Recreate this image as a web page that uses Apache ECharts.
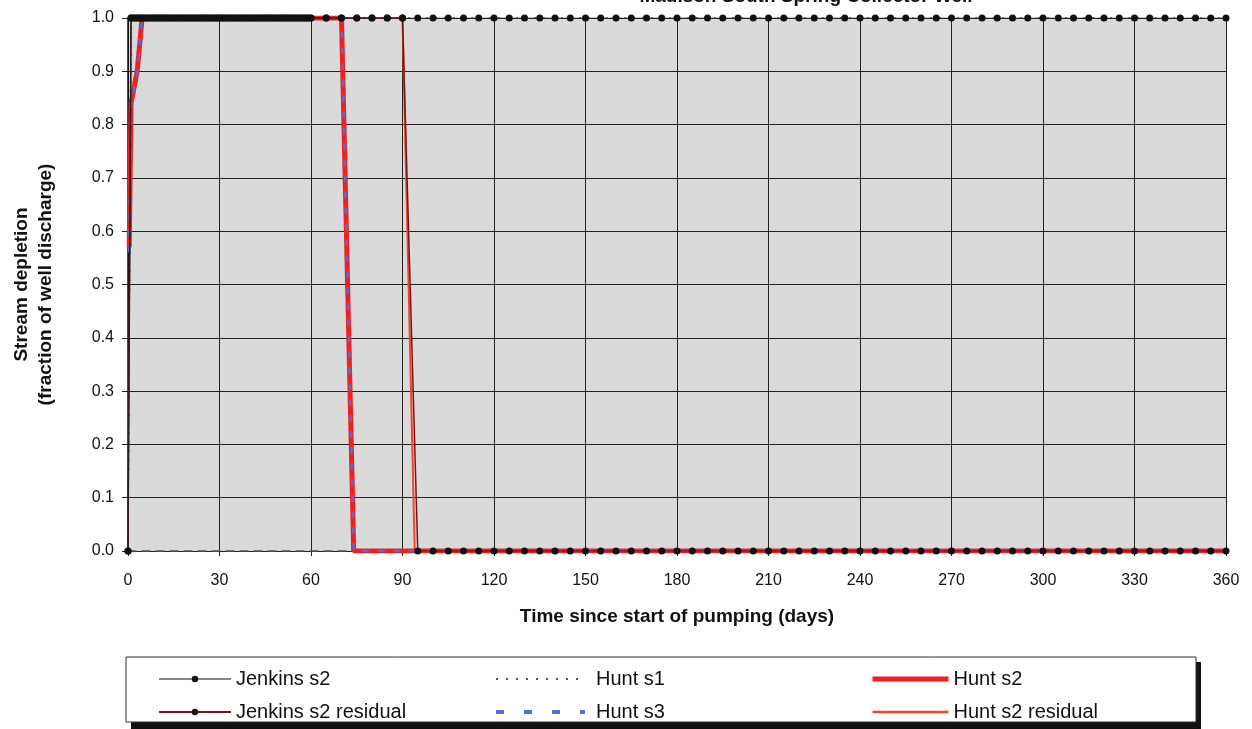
<!DOCTYPE html>
<html><head><meta charset="utf-8">
<script src="https://cdn.jsdelivr.net/npm/echarts@6/dist/echarts.min.js"></script>
<style>html,body{margin:0;padding:0;background:#fff}#c{width:1252px;height:729px}</style>
</head><body><div id="c"></div>
<script>
// ---- data ----
const xTicks = [0,30,60,90,120,150,180,210,240,270,300,330,360];
const yTicks = [0.0,0.1,0.2,0.3,0.4,0.5,0.6,0.7,0.8,0.9,1.0];

const jenkinsDays = [0,1,2,3,4,5,6,7,8,9,10,11,12,13,14,15,16,17,18,19,20,21,22,23,24,25,26,27,28,29,30,
  31,32,33,34,35,36,37,38,39,40,41,42,43,44,45,46,47,48,49,50,51,52,53,54,55,56,57,58,59,60,
  65,70,75,80,85,90,95,100,105,110,115,120,125,130,135,140,145,150,155,160,165,170,175,180,185,190,195,200,
  205,210,215,220,225,230,235,240,245,250,255,260,265,270,275,280,285,290,295,300,305,310,315,320,325,330,
  335,340,345,350,355,360];
const jenkinsS2 = [0,1,1,1,1,1,1,1,1,1,1,1,1,1,1,1,1,1,1,1,1,1,1,1,1,1,1,1,1,1,1,
  1,1,1,1,1,1,1,1,1,1,1,1,1,1,1,1,1,1,1,1,1,1,1,1,1,1,1,1,1,1,
  1,1,1,1,1,1,1,1,1,1,1,1,1,1,1,1,1,1,1,1,1,1,1,1,1,1,1,1,
  1,1,1,1,1,1,1,1,1,1,1,1,1,1,1,1,1,1,1,1,1,1,1,1,1,1,
  1,1,1,1,1,1];
const jenkinsS2Residual = [0,1,1,1,1,1,1,1,1,1,1,1,1,1,1,1,1,1,1,1,1,1,1,1,1,1,1,1,1,1,1,
  1,1,1,1,1,1,1,1,1,1,1,1,1,1,1,1,1,1,1,1,1,1,1,1,1,1,1,1,1,1,
  1,1,1,1,1,1,0,0,0,0,0,0,0,0,0,0,0,0,0,0,0,0,0,0,0,0,0,0,
  0,0,0,0,0,0,0,0,0,0,0,0,0,0,0,0,0,0,0,0,0,0,0,0,0,0,
  0,0,0,0,0,0];

const huntS1Days = [0,1,5,360];
const huntS1 = [0,1,1,1];

const huntS2Days = [0.4,1,2,3,4,4.6,70,74,360];
const huntS2 = [0.57,0.84,0.87,0.9,0.96,1,1,0,0];

const huntS3Days = [0.4,1,2,3,4,4.6,70,74,360];
const huntS3 = [0.56,0.84,0.87,0.9,0.96,1,1,0,0];

const huntS2ResDays = [0.4,1,2,3,4,4.6,90,94,360];
const huntS2Residual = [0.57,0.84,0.87,0.9,0.96,1,1,0,0];

function pairs(xs, ys){ return xs.map((x,i)=>[x,ys[i]]); }

const FONT = '"Liberation Sans", Arial, sans-serif';
const chart = echarts.init(document.getElementById('c'), null, {renderer:'canvas'});

const legendText = {fontFamily: FONT, fontSize: 20, color:'#111'};
const noDot = {color:'rgba(0,0,0,0)',borderWidth:0};
chart.setOption({
  animation:false,
  backgroundColor:'#ffffff',
  grid:{left:128,right:26,top:18,bottom:178,show:true,backgroundColor:'#dadada',borderWidth:0,containLabel:false,outerBoundsMode:'none'},
  graphic:[
    {type:'rect',shape:{x:131,y:662,width:1070,height:67},style:{fill:'#111'},z:-10},
    {type:'rect',shape:{x:126,y:657,width:1070,height:65},style:{fill:'#fff',stroke:'#333',lineWidth:1},z:-9},
    {type:'text',x:806,y:6,style:{text:'Madison South Spring Collector Well',font:'bold 19px "Liberation Sans", Arial, sans-serif',fill:'#111',textAlign:'center',textVerticalAlign:'bottom'}}
  ],
  xAxis:{
    type:'value',min:xTicks[0],max:xTicks[xTicks.length-1],interval:30,
    name:'Time since start of pumping (days)',nameLocation:'middle',nameGap:56,
    nameTextStyle:{fontFamily:FONT,fontSize:19,fontWeight:'bold',color:'#111'},
    axisLine:{show:true,onZero:false,lineStyle:{color:'#555',width:1.5,type:[8,6]}},
    axisTick:{show:true,length:5,lineStyle:{color:'#222'}},
    axisLabel:{fontFamily:FONT,fontSize:16,color:'#111',margin:22},
    splitLine:{show:true,lineStyle:{color:'#222',width:1}}
  },
  yAxis:{
    type:'value',min:0,max:1,interval:0.1,
    name:'Stream depletion\n(fraction of well discharge)',nameLocation:'middle',nameGap:70,nameRotate:90,
    nameTextStyle:{fontFamily:FONT,fontSize:19,fontWeight:'bold',color:'#111',lineHeight:24},
    axisLine:{show:true,lineStyle:{color:'#111',width:1.5}},
    axisTick:{show:true,length:6,lineStyle:{color:'#222'}},
    axisLabel:{fontFamily:FONT,fontSize:16,color:'#111',margin:14,formatter:v=>v.toFixed(1)},
    splitLine:{show:true,lineStyle:{color:'#222',width:1}}
  },
  legend:[
    {data:[{name:'Jenkins s2',lineStyle:{width:1.2,color:'#111'}},{name:'Jenkins s2 residual',lineStyle:{width:2}}],
      orient:'vertical',left:153,top:664,itemWidth:72,itemHeight:8,itemGap:13,textStyle:legendText},
    {data:[{name:'Hunt s1',itemStyle:noDot,lineStyle:{width:2,type:[2,8],color:'#555'}},
           {name:'Hunt s3',itemStyle:noDot,lineStyle:{width:4,type:[8,20]}}],
      orient:'vertical',left:489,top:664,itemWidth:89,itemHeight:8,itemGap:13,textStyle:Object.assign({padding:[0,0,0,6]},legendText)},
    {data:[{name:'Hunt s2',itemStyle:noDot,lineStyle:{width:5}},
           {name:'Hunt s2 residual',itemStyle:noDot,lineStyle:{width:2.5}}],
      orient:'vertical',left:865,top:664,itemWidth:76,itemHeight:8,itemGap:13,textStyle:legendText}
  ],
  series:[
    {name:'Hunt s2 residual',type:'line',data:pairs(huntS2ResDays,huntS2Residual),symbol:'none',
      lineStyle:{color:'#f2452a',width:2},itemStyle:{color:'#f2452a'},z:2},
    {name:'Hunt s2',type:'line',data:pairs(huntS2Days,huntS2),symbol:'none',
      lineStyle:{color:'#f51e1e',width:5},itemStyle:{color:'#f51e1e'},z:3},
    {name:'Hunt s3',type:'line',data:pairs(huntS3Days,huntS3),symbol:'none',
      lineStyle:{color:'#4f6fd6',width:2.5,type:[7,9]},itemStyle:{color:'#4f6fd6'},z:4},
    {name:'Hunt s1',type:'line',data:pairs(huntS1Days,huntS1),symbol:'none',
      lineStyle:{color:'#222',width:1.5,type:[2,7]},itemStyle:{color:'#222'},z:5},
    {name:'Jenkins s2 residual',type:'line',data:pairs(jenkinsDays,jenkinsS2Residual),symbol:'circle',symbolSize:7,showAllSymbol:true,
      lineStyle:{color:'#7a1414',width:1.5},itemStyle:{color:'#111'},z:6},
    {name:'Jenkins s2',type:'line',data:pairs(jenkinsDays,jenkinsS2),symbol:'circle',symbolSize:7,showAllSymbol:true,
      lineStyle:{color:'#222',width:1.2},itemStyle:{color:'#111'},z:7}
  ]
});
</script></body></html>
